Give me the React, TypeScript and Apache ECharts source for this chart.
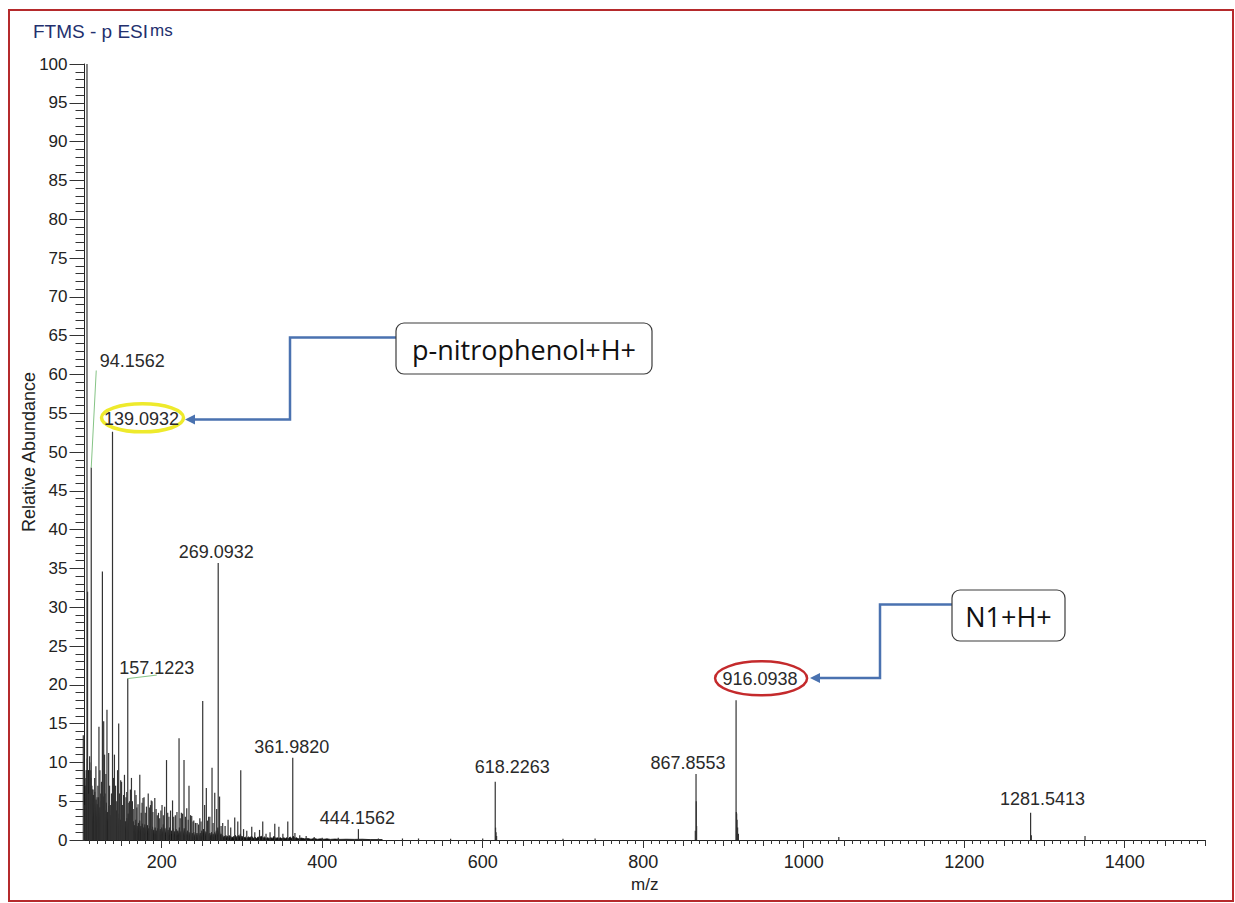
import React, { useEffect, useRef } from 'react';
import * as echarts from 'echarts';

// ---- axis ranges ----
const xMin = 103.8;
const xMax = 1500;
const yMin = 0;
const yMax = 100;
const xLabelTicks = [200, 400, 600, 800, 1000, 1200, 1400];

// ---- distinct peaks [m/z, relative abundance] ----
const stickPeaks: [number, number][] = [
  [102.3, 13.5], [104.5, 4.5], [105.5, 8], [106.9, 100], [107.6, 32], [108.3, 6], [110.2, 10.8],
  [111.5, 9], [112.2, 48], [113.0, 7], [114.5, 6.5], [116.5, 8], [118.0, 9.5], [119.5, 5.5],
  [120.5, 7], [121.8, 14.6], [123.0, 9], [124.0, 6], [125.0, 7.5], [126.1, 34.6], [127.7, 15.3],
  [128.8, 11], [129.5, 6], [130.5, 8.5], [131.8, 16.8], [133.9, 11.2], [135.0, 7], [136.0, 4.5],
  [137.5, 6], [138.7, 52.6], [140.0, 8], [141.1, 11], [142.5, 7], [144.0, 5], [145.0, 9],
  [146.4, 15], [147.5, 6], [148.9, 7.7], [150.0, 7.5], [151.0, 4.5], [152.5, 5.8], [153.6, 8.4],
  [155.5, 5.5], [156.5, 6.2], [157.7, 20.8], [159.0, 4.8], [160.0, 5], [161.0, 6.5], [162.3, 8],
  [163.5, 5], [164.5, 4], [166.5, 6.4], [168.0, 5.8], [169.0, 4.2], [170.5, 4.6], [172.7, 8.4],
  [174.5, 3.5], [175.5, 4.8], [176.7, 5.4], [178.0, 5.5], [179.5, 3.5], [181.0, 4.3], [183.2, 6],
  [185.0, 4.2], [186.0, 4.5], [187.0, 5.1], [188.0, 5], [189.0, 3.6], [191.4, 5.4], [193.0, 4],
  [194.5, 3.2], [196.0, 3.5], [197.5, 2.8], [199.0, 3.8], [200.4, 4.5], [202.0, 3.2], [203.7, 4.3],
  [206.0, 10.3], [207.5, 3.5], [209.0, 3.0], [211.0, 3.8], [213.5, 5.1], [215.0, 3], [217.0, 3.2],
  [219.0, 3.6], [221.6, 13.1], [223.0, 2.8], [224.5, 3.5], [226.0, 3.4], [227.8, 10.3], [229.5, 3],
  [231.2, 4.1], [233.0, 2.6], [234.0, 7], [236.0, 3.2], [237.4, 3.1], [239.0, 2.4], [240.0, 2.5],
  [242.0, 2.2], [244.0, 2.2], [246.0, 2.0], [247.5, 2.8], [249.0, 2.4], [251.1, 17.9], [253.5, 4.5],
  [255.6, 6.7], [257.0, 2.5], [258.5, 3], [260.0, 3.0], [262.7, 9.3], [264.0, 2.2], [266.1, 6.1],
  [268.5, 4], [270.4, 35.7], [272.1, 5.6], [274, 1.8], [276, 2.2], [279, 1.8], [282.7, 2.6],
  [286, 1.6], [291.0, 2.9], [294.8, 2.4], [298.5, 9.0], [302, 1.4], [306, 1.2], [312.2, 1.7],
  [316, 1.0], [321.9, 1.3], [325.9, 2.4], [330, 0.8], [335, 1.0], [340.9, 2.1], [346.0, 1.7],
  [351, 0.8], [357.1, 2.4], [363.3, 10.6], [366, 0.9], [372, 0.6], [380, 0.5], [390, 0.4],
  [400, 0.3], [420, 0.3], [445.1, 1.4], [470, 0.2], [500, 0.2], [520, 0.2], [560, 0.15],
  [600, 0.2], [615.6, 7.5], [616.0, 1.6], [616.6, 1.0], [617.3, 0.5], [700, 0.15], [740, 0.2],
  [864.9, 1.2], [865.8, 8.5], [866.1, 5], [866.5, 1.8], [915.7, 18.0], [916.0, 3.6], [916.4, 3.4],
  [916.9, 2.6], [917.6, 1.6], [918.6, 0.8], [1043.7, 0.4], [1282.7, 3.5], [1283.6, 0.6], [1350.5, 0.5],
];

// ---- dense low-level baseline noise [m/z, relative abundance] ----
const grassProfile: [number, number][] = [
  [103.8, 3], [104.6, 7], [105.3, 2.5], [106, 9], [106.6, 3], [107.3, 10.5], [108, 4], [108.8, 9],
  [109.5, 3.2], [110.3, 10], [111, 4.5], [111.8, 8], [112.6, 3], [113.4, 6.5], [114.2, 2.4], [115, 5.8],
  [115.8, 2.2], [116.6, 6.2], [117.4, 2.8], [118.2, 5.2], [119, 1.8], [119.8, 4.6], [120.6, 2.6], [121.4, 5.5],
  [122.2, 2], [123, 4.2], [123.8, 1.8], [124.6, 5], [125.4, 2.4], [126.2, 4.4], [127, 1.6], [127.8, 5.6],
  [128.6, 2.2], [129.4, 3.8], [130.2, 1.6], [131, 4.8], [131.8, 2.4], [132.6, 3.6], [133.4, 1.4], [134.2, 4.4],
  [135, 2], [135.8, 3.2], [136.6, 1.3], [137.4, 4], [138.2, 1.8], [139, 3.6], [139.8, 1.4], [140.6, 4.2],
  [141.4, 2], [142.2, 3], [143, 1.2], [143.8, 3.8], [144.6, 1.6], [145.4, 2.8], [146.2, 1.2], [147, 3.4],
  [147.8, 1.5], [148.6, 2.6], [149.4, 1.1], [150.2, 3.2], [151, 1.4], [151.8, 2.5], [152.6, 1], [153.4, 3],
  [154.2, 1.3], [155, 2.4], [155.8, 1], [156.6, 2.8], [157.4, 1.2], [158.2, 3.4], [159, 1], [159.8, 2.2],
  [160.6, 1.1], [161.4, 2.6], [162.2, 1], [163, 2], [163.8, 0.9], [164.6, 2.4], [165.4, 1.1], [166.2, 1.9],
  [167, 0.8], [167.8, 2.6], [168.6, 1], [169.4, 1.8], [170.2, 0.8], [171, 2.2], [171.8, 1], [172.6, 2.5],
  [173.4, 0.9], [174.2, 1.8], [175, 0.7], [175.8, 2.1], [176.6, 1], [177.4, 1.6], [178.2, 0.7], [179, 2],
  [179.8, 0.9], [180.6, 1.6], [181.4, 0.7], [182.2, 1.9], [183, 0.8], [183.8, 1.5], [184.6, 0.7], [185.4, 1.8],
  [186.2, 0.8], [187, 1.4], [187.8, 0.6], [188.6, 1.7], [189.4, 0.8], [190.2, 1.3], [191, 0.6], [191.8, 1.6],
  [192.6, 0.7], [193.4, 1.2], [194.2, 0.6], [195, 1.5], [195.8, 0.7], [196.6, 1.2], [197.4, 0.5], [198.2, 1.4],
  [199, 0.6], [200, 1.6], [201, 0.7], [202, 2], [203, 0.8], [204, 1.5], [205, 0.6], [206, 1.8],
  [207, 0.7], [208, 1.3], [209, 0.5], [210, 1.6], [211, 0.7], [212, 1.2], [213, 0.6], [214, 1.5],
  [215, 0.5], [216, 1.1], [217, 0.6], [218, 1.4], [219, 0.5], [220, 1.2], [221, 0.6], [222, 1.6],
  [223, 0.5], [224, 1.1], [225, 0.5], [226, 1.3], [227, 0.6], [228, 1.5], [229, 0.5], [230, 1],
  [231, 0.5], [232, 1.2], [233, 0.4], [234, 1], [235, 0.5], [236, 1.1], [237, 0.4], [238, 0.9],
  [239, 0.4], [240, 1], [241, 0.4], [242, 0.8], [243, 0.4], [244, 0.9], [245, 0.3], [246, 0.8],
  [247, 0.4], [248, 0.9], [249, 0.4], [250, 1.2], [251, 0.6], [252, 1.4], [253, 0.6], [254, 1.1],
  [255, 0.5], [256, 1], [257, 0.4], [258, 0.8], [259, 0.4], [260, 0.9], [261, 0.4], [262, 1],
  [263, 0.4], [264, 0.8], [265, 0.4], [266, 1], [267, 0.5], [268, 1.2], [269, 0.6], [270, 1.6],
  [271, 0.7], [272, 1.2], [273, 0.5], [274, 0.8], [275, 0.3], [276, 0.6], [277, 0.3], [278, 0.5],
  [279, 0.3], [280, 0.6], [281, 0.3], [282, 0.5], [283, 0.2], [284, 0.6], [285, 0.3], [286, 0.5],
  [287, 0.2], [288, 0.4], [289, 0.2], [290, 0.5], [291, 0.3], [292, 0.6], [293, 0.2], [294, 0.5],
  [295, 0.3], [296, 0.6], [297, 0.3], [298, 0.8], [299, 0.3], [300, 0.5], [302, 0.2], [304, 0.4],
  [306, 0.2], [308, 0.4], [310, 0.3], [312, 0.5], [314, 0.2], [316, 0.4], [318, 0.2], [320, 0.4],
  [322, 0.3], [324, 0.5], [326, 0.2], [328, 0.4], [330, 0.2], [332, 0.3], [334, 0.2], [336, 0.3],
  [338, 0.2], [340, 0.5], [342, 0.2], [344, 0.3], [346, 0.2], [348, 0.3], [350, 0.15], [352, 0.3],
  [354, 0.2], [356, 0.3], [358, 0.2], [360, 0.4], [362, 0.2], [364, 0.5], [366, 0.2], [368, 0.3],
  [370, 0.15], [374, 0.25], [378, 0.15], [382, 0.2], [386, 0.1], [390, 0.2], [394, 0.1], [398, 0.15],
  [402, 0.1], [406, 0.15], [410, 0.08], [416, 0.12], [422, 0.08], [430, 0.1], [440, 0.08], [450, 0.1],
  [460, 0.05], [475, 0.05],
];

// ---- labelled peaks ----
const labelPeakMz = [112.2, 138.7, 157.7, 270.4, 363.3, 445.1, 615.6, 865.8, 915.7, 1282.7];
const labelTexts = ['94.1562', '139.0932', '157.1223', '269.0932', '361.9820', '444.1562', '618.2263', '867.8553', '916.0938', '1281.5413'];

// ---- annotation texts ----
const titleText = 'FTMS - p ESI';
const titleSuffix = 'ms';
const yAxisTitle = 'Relative Abundance';
const xAxisTitle = 'm/z';
const callout1 = 'p-nitrophenol+H+';
const callout2 = 'N1+H+';

// ---- label styles (offsets in px relative to the peak top) ----
const labelStyle: Record<string, { dx: number; dy: number; leader?: [number, number]; ring?: { color: string; rx: number; ry: number; w: number } }> = {
  '94.1562': { dx: 41, dy: -107, leader: [5, -97] },
  '139.0932': { dx: 29, dy: -13, ring: { color: '#eeea2c', rx: 41, ry: 14, w: 3.5 } },
  '157.1223': { dx: 29, dy: -11, leader: [29, -3.5] },
  '269.0932': { dx: -2, dy: -11 },
  '361.9820': { dx: -1, dy: -11 },
  '444.1562': { dx: -1, dy: -11 },
  '618.2263': { dx: 17, dy: -15 },
  '867.8553': { dx: -8, dy: -11 },
  '916.0938': { dx: 24, dy: -21, ring: { color: '#c42a2c', rx: 46, ry: 17, w: 2.5 } },
  '1281.5413': { dx: 12, dy: -14 },
};

const FONT = "'Liberation Sans', Arial, Helvetica, sans-serif";
const BLUE = '#4a72b0';

function buildTicks(step: number, skip: number[]): number[] {
  const out: number[] = [];
  for (let v = Math.ceil(xMin / step) * step; v <= xMax + 0.001; v += step) {
    if (skip.some((s) => Math.abs(v % s) < 0.001)) continue;
    out.push(v);
  }
  return out;
}

export default function App() {
  const ref = useRef<HTMLDivElement>(null);

  useEffect(() => {
    if (!ref.current) return;
    const chart = echarts.init(ref.current, null, { renderer: 'svg' });

    const midTicks = buildTicks(50, [200]);
    const minorTicks = buildTicks(10, [50]);

    const labelData = labelPeakMz.map((mz, i) => {
      const pk = stickPeaks.find((p) => Math.abs(p[0] - mz) < 0.01);
      return [mz, pk ? pk[1] : 0, i];
    });

    const hiddenAxis = (ticks: number[], len: number) => ({
      type: 'value',
      min: xMin,
      max: xMax,
      position: 'bottom',
      axisLine: { show: false },
      axisTick: { show: true, customValues: ticks, length: len, lineStyle: { color: '#333', width: 1 } },
      axisLabel: { show: false },
      splitLine: { show: false },
    });

    chart.setOption({
      animation: false,
      backgroundColor: '#ffffff',
      grid: { left: 84.5, right: 30, top: 64, bottom: 63, containLabel: false },
      xAxis: [
        {
          type: 'value',
          min: xMin,
          max: xMax,
          position: 'bottom',
          axisLine: { show: true, onZero: false, lineStyle: { color: '#222', width: 1 } },
          axisTick: { show: true, customValues: xLabelTicks, length: 8, lineStyle: { color: '#333', width: 1 } },
          axisLabel: {
            customValues: xLabelTicks,
            fontSize: 18,
            color: '#222',
            fontFamily: FONT,
            margin: 13,
            formatter: (v: number) => String(Math.round(v)),
          },
          splitLine: { show: false },
          name: xAxisTitle,
          nameLocation: 'middle',
          nameGap: 36,
          nameMoveOverlap: false,
          nameTextStyle: { fontSize: 17, color: '#222', fontFamily: FONT },
        },
        hiddenAxis(midTicks, 6),
        hiddenAxis(minorTicks, 4),
      ],
      yAxis: {
        type: 'value',
        min: yMin,
        max: yMax,
        interval: 5,
        axisLine: { show: true, lineStyle: { color: '#222', width: 1 } },
        axisTick: { show: true, length: 15, lineStyle: { color: '#333', width: 1 } },
        minorTick: { show: true, splitNumber: 5, length: 9, lineStyle: { color: '#333', width: 1 } },
        axisLabel: { fontSize: 17, color: '#222', fontFamily: FONT, margin: 17 },
        splitLine: { show: false },
        minorSplitLine: { show: false },
        name: yAxisTitle,
        nameLocation: 'middle',
        nameGap: 47,
        nameMoveOverlap: false,
        nameTextStyle: { fontSize: 18, color: '#222', fontFamily: FONT },
      },
      series: [
        {
          type: 'line',
          xAxisIndex: 0,
          data: grassProfile,
          symbol: 'none',
          lineStyle: { color: '#111', width: 0.8 },
          areaStyle: { color: '#111', opacity: 1 },
          z: 1,
          silent: true,
        },
        {
          type: 'custom',
          xAxisIndex: 0,
          data: stickPeaks,
          z: 2,
          silent: true,
          renderItem: (params: any, api: any) => {
            const x = api.value(0);
            const y = api.value(1);
            const p0 = api.coord([x, 0]);
            const p1 = api.coord([x, y]);
            return {
              type: 'line',
              shape: { x1: p0[0], y1: p0[1], x2: p1[0], y2: p1[1] },
              style: { stroke: '#333', lineWidth: 1.2 },
            };
          },
        },
        {
          type: 'custom',
          xAxisIndex: 0,
          data: labelData,
          z: 5,
          silent: true,
          renderItem: (params: any, api: any) => {
            const x = api.value(0);
            const y = api.value(1);
            const idx = api.value(2);
            const text = labelTexts[idx];
            const st = labelStyle[text];
            const p = api.coord([x, y]);
            const cx = p[0] + st.dx;
            const cy = p[1] + st.dy;
            const children: any[] = [];
            if (st.leader) {
              children.push({
                type: 'line',
                shape: { x1: p[0], y1: p[1], x2: p[0] + st.leader[0], y2: p[1] + st.leader[1] },
                style: { stroke: '#86c486', lineWidth: 1 },
              });
            }
            if (st.ring) {
              children.push({
                type: 'ellipse',
                shape: { cx: cx + 1, cy: cy - 1, rx: st.ring.rx, ry: st.ring.ry },
                style: { fill: 'none', stroke: st.ring.color, lineWidth: st.ring.w },
              });
            }
            children.push({
              type: 'text',
              style: {
                text,
                x: cx,
                y: cy,
                align: 'center',
                verticalAlign: 'middle',
                fontSize: 18,
                fontFamily: FONT,
                fill: '#2a2a2a',
              },
            });
            return { type: 'group', children };
          },
        },
      ],
      graphic: [
        {
          type: 'rect',
          z: 100,
          shape: { x: 9, y: 10, width: 1224, height: 891 },
          style: { fill: 'none', stroke: '#b52a2c', lineWidth: 2 },
          silent: true,
        },
        {
          type: 'text',
          z: 100,
          style: { text: titleText, x: 33, y: 31, verticalAlign: 'middle', fontSize: 19, fontFamily: FONT, fill: '#23306e' },
        },
        {
          type: 'text',
          z: 100,
          style: { text: titleSuffix, x: 150, y: 30.5, verticalAlign: 'middle', fontSize: 17, fontFamily: FONT, fill: '#23306e' },
        },
        // callout 1
        {
          type: 'polyline',
          z: 100,
          shape: { points: [[396, 337.5], [290, 337.5], [290, 419.5], [194, 419.5]] },
          style: { stroke: BLUE, lineWidth: 2.5, fill: 'none' },
        },
        {
          type: 'polygon',
          z: 100,
          shape: { points: [[185, 419.5], [195, 414.5], [195, 424.5]] },
          style: { fill: BLUE },
        },
        {
          type: 'rect',
          z: 100,
          shape: { x: 396, y: 323, width: 256, height: 51, r: 8 },
          style: { fill: '#ffffff', stroke: '#3c3c3c', lineWidth: 1.2 },
        },
        {
          type: 'text',
          z: 101,
          style: { text: callout1, x: 524, y: 349, align: 'center', verticalAlign: 'middle', fontSize: 27, fontFamily: "'Open Sans', 'Noto Sans', sans-serif", fill: '#111' },
        },
        // callout 2
        {
          type: 'polyline',
          z: 100,
          shape: { points: [[952, 604.5], [880, 604.5], [880, 678], [819, 678]] },
          style: { stroke: BLUE, lineWidth: 2.5, fill: 'none' },
        },
        {
          type: 'polygon',
          z: 100,
          shape: { points: [[810, 678], [820, 673], [820, 683]] },
          style: { fill: BLUE },
        },
        {
          type: 'rect',
          z: 100,
          shape: { x: 952, y: 590, width: 113, height: 51, r: 8 },
          style: { fill: '#ffffff', stroke: '#3c3c3c', lineWidth: 1.2 },
        },
        {
          type: 'text',
          z: 101,
          style: { text: callout2, x: 1008.5, y: 616, align: 'center', verticalAlign: 'middle', fontSize: 27, fontFamily: "'Open Sans', 'Noto Sans', sans-serif", fill: '#111' },
        },
      ],
    });

    return () => {
      chart.dispose();
    };
  }, []);

  return (
    <div
      ref={ref}
      style={{ position: 'fixed', left: 0, top: 0, width: 1235, height: 903, background: '#fff' }}
    />
  );
}
